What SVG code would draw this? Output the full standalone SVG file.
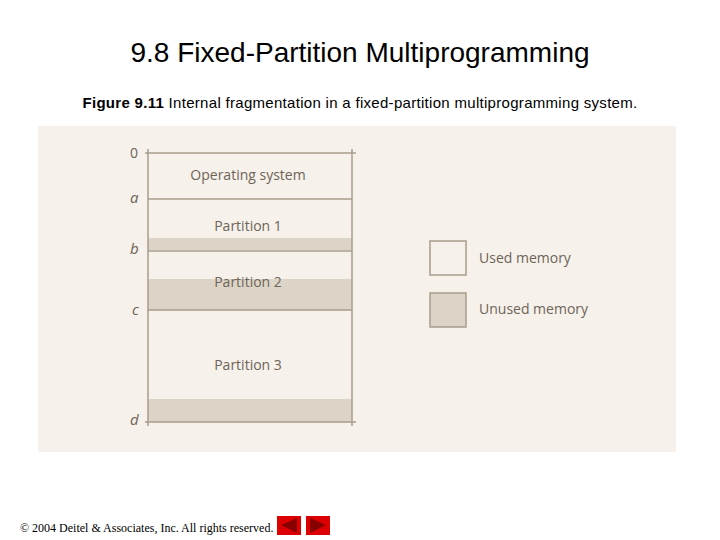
<svg xmlns="http://www.w3.org/2000/svg" width="720" height="540" viewBox="0 0 720 540">
<style>
.t{font-family:"Open Sans","Liberation Sans",sans-serif;font-size:14px;fill:#6e6458}
.l{stroke:#a89c8c;stroke-width:1.5;fill:none}
.u{fill:#ddd4c8}
.lab{font-family:"Open Sans","Liberation Sans",sans-serif;font-size:15px;fill:#6e6458;font-style:italic}
</style>
<rect width="720" height="540" fill="#fff"/>
<text x="360" y="62" text-anchor="middle" font-family="Liberation Sans,sans-serif" font-size="28" fill="#000">9.8 Fixed-Partition Multiprogramming</text>
<text x="360" y="108" text-anchor="middle" font-family="Liberation Sans,sans-serif" font-size="15" letter-spacing="0.3" fill="#000"><tspan font-weight="bold">Figure 9.11</tspan> Internal fragmentation in a fixed-partition multiprogramming system.</text>
<rect x="38" y="126" width="638" height="326" fill="#f6f1ea"/>
<g id="unused">
<rect class="u" x="148" y="238" width="204" height="12"/>
<rect class="u" x="148" y="279" width="204" height="31"/>
<rect class="u" x="148" y="399" width="204" height="23"/>
</g>
<g id="memory">
<line class="l" x1="145" y1="153" x2="356" y2="153"/>
<line class="l" x1="148" y1="149" x2="148" y2="426"/>
<line class="l" x1="352" y1="149" x2="352" y2="426"/>
<line class="l" x1="148" y1="199" x2="352" y2="199"/>
<line class="l" x1="148" y1="251" x2="352" y2="251"/>
<line class="l" x1="148" y1="310" x2="352" y2="310"/>
<line class="l" x1="145" y1="422" x2="356" y2="422"/>
<text class="t" x="248" y="180" text-anchor="middle">Operating system</text>
<text class="t" x="248" y="231" text-anchor="middle">Partition 1</text>
<text class="t" x="248" y="287" text-anchor="middle">Partition 2</text>
<text class="t" x="248" y="370" text-anchor="middle">Partition 3</text>
<text class="t" x="130" y="158">0</text>
<text class="lab" x="130" y="203">a</text>
<text class="lab" x="130" y="254">b</text>
<text class="lab" x="132" y="315">c</text>
<text class="lab" x="130" y="425">d</text>
</g>
<g id="legend">
<rect class="l" x="430" y="241" width="36" height="34" fill="none"/>
<rect class="l u" x="430" y="293" width="36" height="34"/>
<text class="t" x="479" y="263">Used memory</text>
<text class="t" x="479" y="314">Unused memory</text>
</g>
<text x="20" y="532" font-family="Liberation Serif,serif" font-size="12" fill="#000">© 2004 Deitel &amp; Associates, Inc.  All rights reserved.</text>
<rect x="277" y="516" width="24" height="19" fill="#d00"/>
<polygon points="281,525 297,518 297,533" fill="#800"/>
<rect x="306" y="516" width="24" height="19" fill="#d00"/>
<polygon points="326,525 310,518 310,533" fill="#800"/>
</svg>
